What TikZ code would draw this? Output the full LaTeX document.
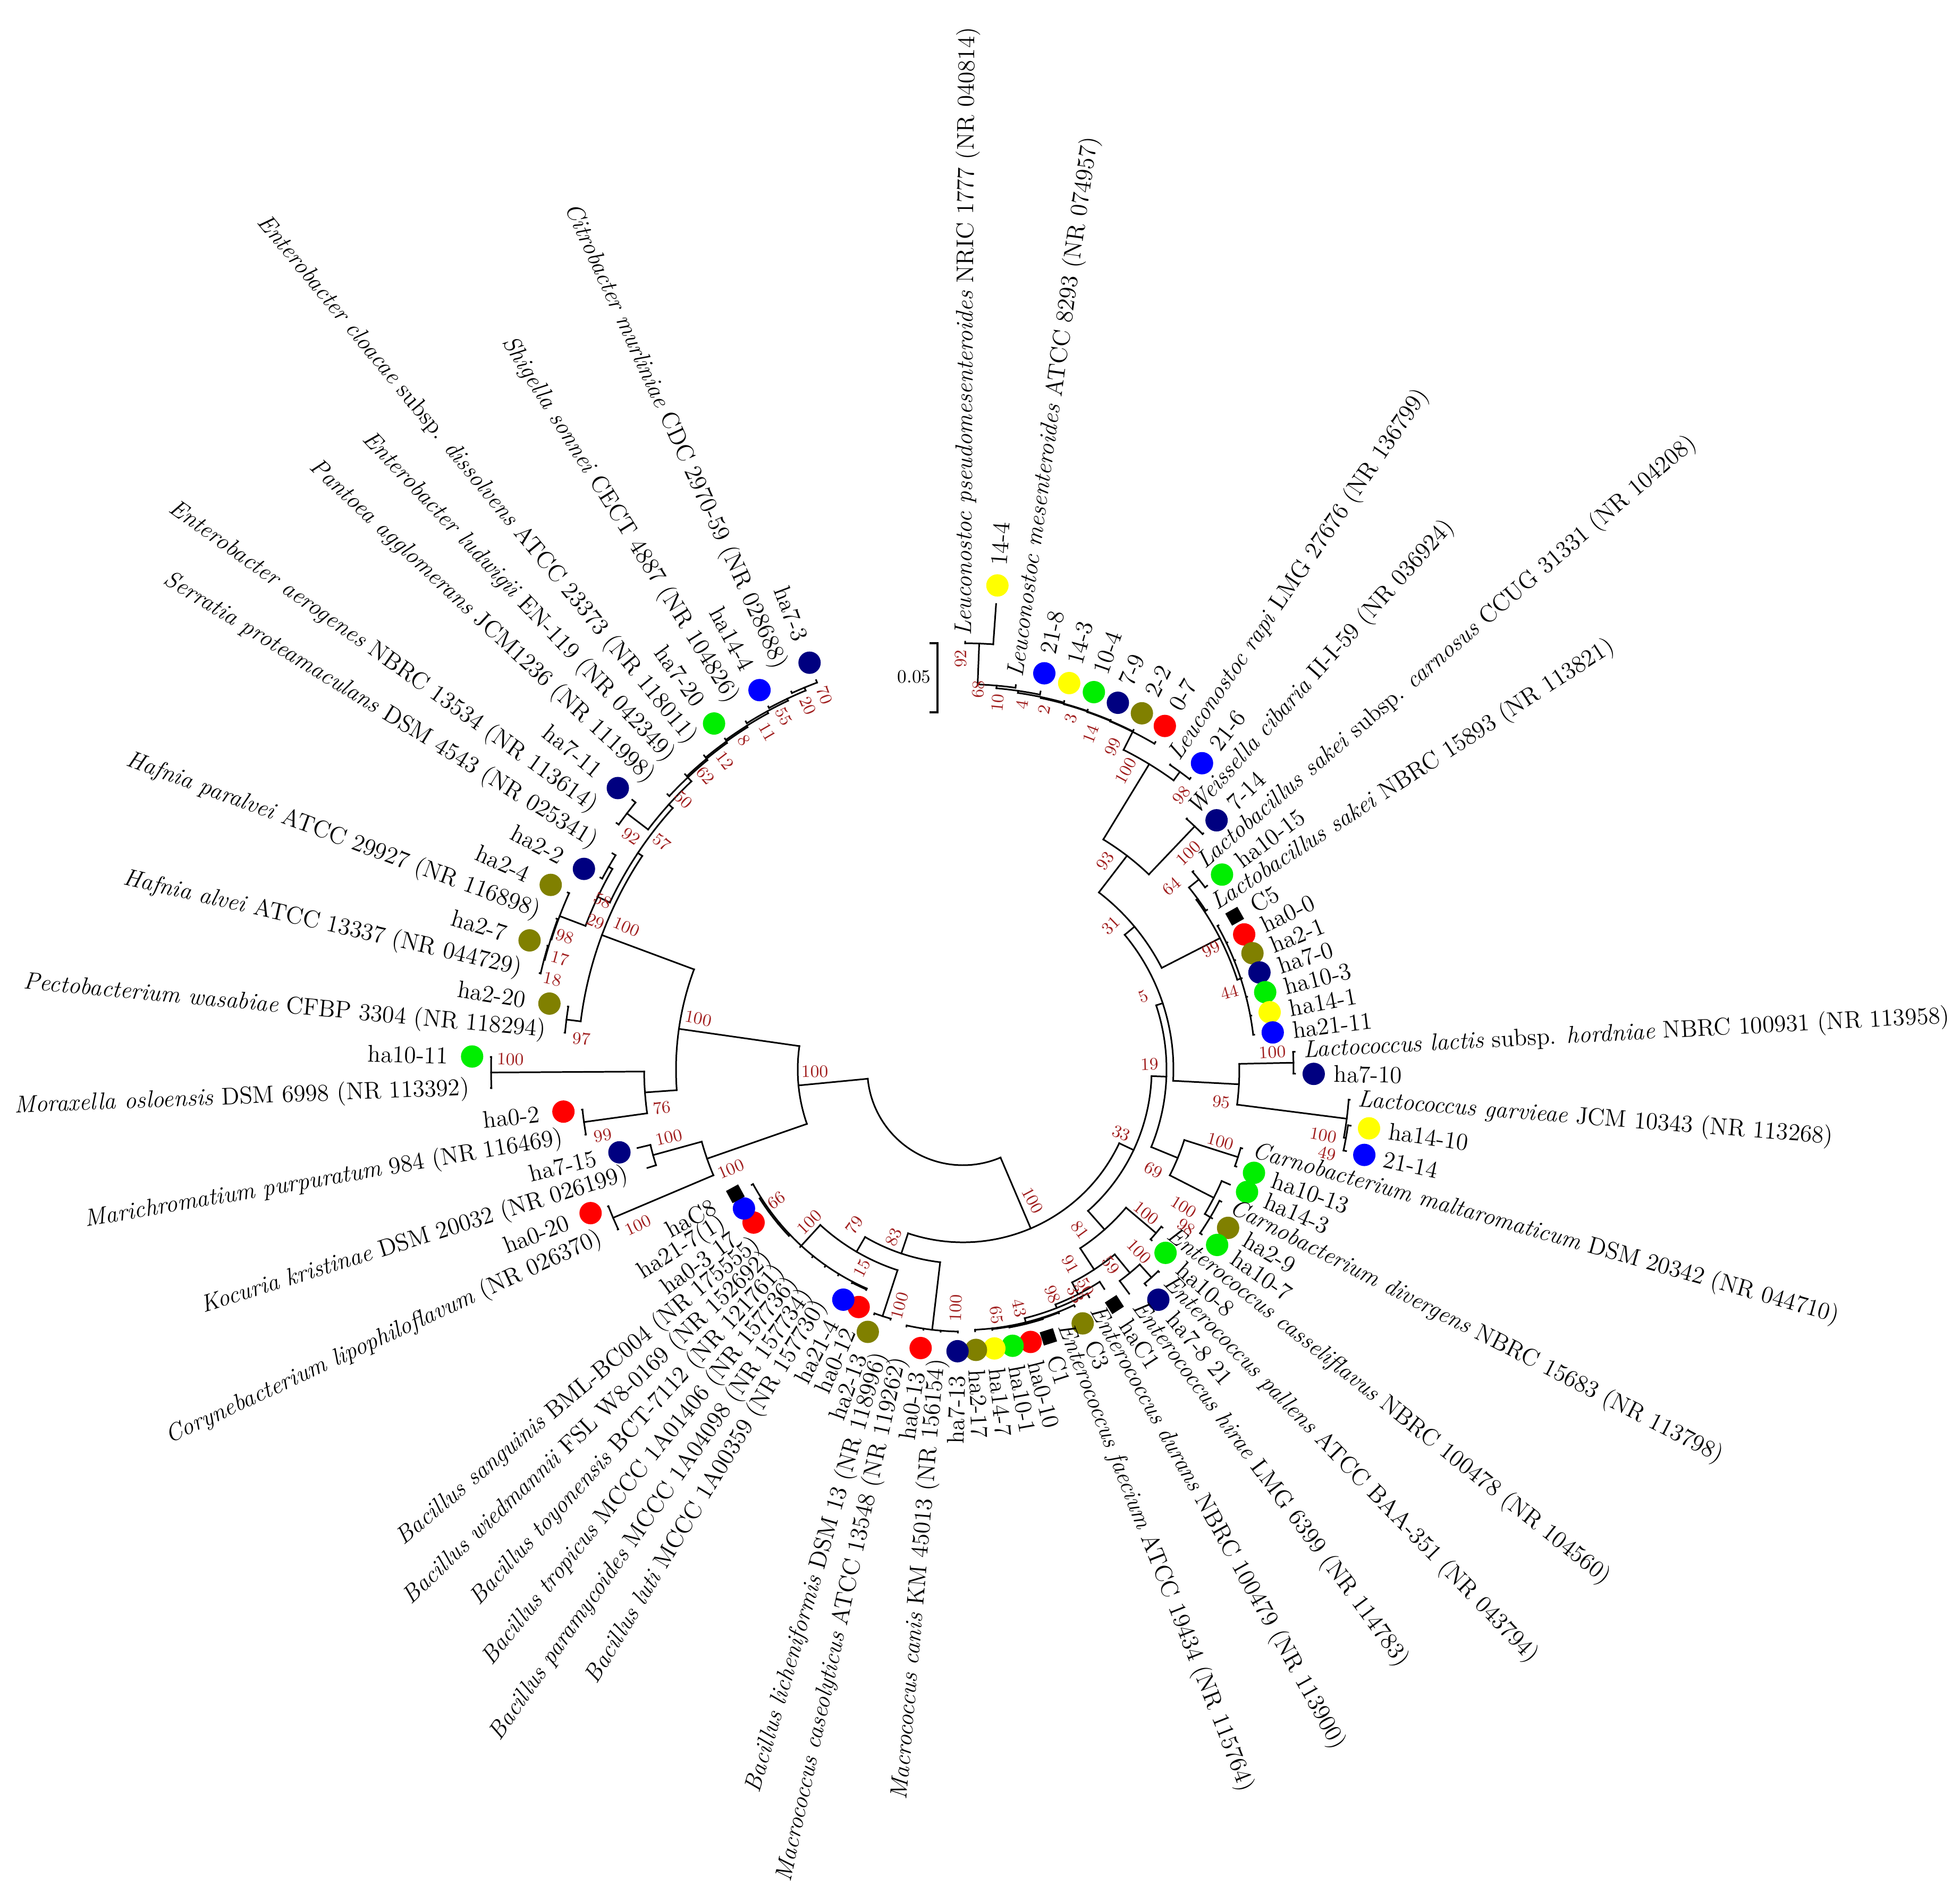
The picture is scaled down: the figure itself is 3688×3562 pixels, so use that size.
\documentclass[tikz,border=0pt]{standalone}
\usepackage{xcolor}

\definecolor{bsred}{RGB}{160,30,30}
\definecolor{dred}{RGB}{255,0,0}
\definecolor{dolive}{RGB}{128,128,0}
\definecolor{dnavy}{RGB}{0,0,128}
\definecolor{dgreen}{RGB}{0,238,0}
\definecolor{dyellow}{RGB}{255,255,0}
\definecolor{dblue}{RGB}{0,0,255}

\tikzset{
  branch/.style={line width=0.85pt, line cap=rect, line join=miter},
  taxon/.style={font=\fontsize{12.9}{14}\selectfont, inner sep=0pt},
  bs/.style={font=\fontsize{9.3}{10}\selectfont, text=bsred, inner sep=0pt},
  ctrl/.style={rectangle, fill=black, minimum size=0.26cm, inner sep=0pt},
}

% branches: radial piece (angle, r1, r2) and node arc (r, a1, a2)
\newcommand{\tbr}[3]{\draw[branch] ({#1}:{#2}) -- ({#1}:{#3});}
\newcommand{\tarc}[3]{\draw[branch] ({#2}:{#1}) arc[start angle={#2}, end angle={#3}, radius={#1*0.01cm}];}
% tip labels
\newcommand{\reftipR}[3]{\node[taxon, anchor=west, rotate={#1}] at ({#1}:{#2}) {#3};}
\newcommand{\reftipL}[3]{\node[taxon, anchor=east, rotate={#1+180}] at ({#1}:{#2}) {#3};}
\newcommand{\isotipR}[4]{\fill[#3] ({#1}:{#2+35}) circle[radius=0.21cm];
  \node[taxon, anchor=west, rotate={#1}] at ({#1}:{#2+72}) {#4};}
\newcommand{\isotipL}[4]{\fill[#3] ({#1}:{#2+35}) circle[radius=0.21cm];
  \node[taxon, anchor=east, rotate={#1+180}] at ({#1}:{#2+80}) {#4};}
\newcommand{\ctltipR}[3]{\node[ctrl, rotate={#1}] at ({#1}:{#2+35}) {};
  \node[taxon, anchor=west, rotate={#1}] at ({#1}:{#2+72}) {#3};}
\newcommand{\ctltipL}[3]{\node[ctrl, rotate={#1}] at ({#1}:{#2+35}) {};
  \node[taxon, anchor=east, rotate={#1+180}] at ({#1}:{#2+80}) {#3};}
% bootstrap values
\newcommand{\bsR}[3]{\node[bs, rotate={#1}] at ({#1}:{#2}) {#3};}
\newcommand{\bsL}[3]{\node[bs, rotate={#1+180}] at ({#1}:{#2}) {#3};}

\begin{document}
\begin{tikzpicture}[x=0.01cm, y=0.01cm]
\useasboundingbox (-1812,-1550) rectangle (1876,2012);

% root
\tarc{180}{-174.48}{-66.90}
\tbr{-174.48}{180}{311}
\tbr{-66.90}{180}{325}

% Actinobacteria + Proteobacteria
\tarc{311}{-188.15}{-160.80}
\tbr{-188.15}{311}{540}
\tbr{-160.80}{311}{510}
\tarc{510}{-164.57}{-157.04}
\tbr{-157.04}{510}{715}
\tbr{-164.57}{510}{605}
\tarc{715}{-158.92}{-155.15}
\tbr{-155.15}{715}{716} \tbr{-158.92}{715}{716}
\tarc{605}{-166.45}{-162.69}
\tbr{-162.69}{605}{622} \tbr{-166.45}{605}{630}
\tarc{540}{-200.42}{-175.88}
\tbr{-175.88}{540}{600}
\tbr{-200.42}{540}{725}
\tarc{600}{-179.64}{-172.11}
\tbr{-179.64}{600}{888}
\tbr{-172.11}{600}{720}
\tarc{888}{-181.52}{-177.75}
\tbr{-177.75}{888}{889} \tbr{-181.52}{888}{889}
\tarc{720}{-173.99}{-170.22}
\tbr{-170.22}{720}{721} \tbr{-173.99}{720}{721}

% Enterobacterales
\tarc{725}{-213.66}{-187.18}
\tbr{-187.18}{725}{752}
\tbr{-213.66}{725}{735}
\tarc{752}{-189.06}{-185.29}
\tbr{-185.29}{752}{753} \tbr{-189.06}{752}{753}
\tarc{735}{-222.01}{-205.31}
\tbr{-205.31}{735}{760}
\tbr{-222.01}{735}{745}
\tarc{760}{-209.78}{-200.83}
\tbr{-209.78}{760}{768}
\tbr{-200.83}{760}{812}
\tarc{768}{-211.66}{-207.89}
\tbr{-207.89}{768}{772} \tbr{-211.66}{768}{775}
\tarc{812}{-204.12}{-197.54}
\tbr{-204.12}{812}{815} \tbr{-197.54}{812}{813.5}
\tarc{813.5}{-200.36}{-194.71}
\tbr{-200.36}{813.5}{816} \tbr{-194.71}{813.5}{815}
\tarc{815}{-196.59}{-192.82}
\tbr{-196.59}{815}{816} \tbr{-192.82}{815}{817}
\tarc{745}{-226.70}{-217.31}
\tbr{-217.31}{745}{795}
\tbr{-226.70}{745}{755}
\tarc{795}{-219.19}{-215.43}
\tbr{-215.43}{795}{800} \tbr{-219.19}{795}{803}
\tarc{755}{-230.44}{-222.96}
\tbr{-222.96}{755}{760} \tbr{-230.44}{755}{758}
\tarc{758}{-234.14}{-226.73}
\tbr{-226.73}{758}{763} \tbr{-234.14}{758}{761}
\tarc{761}{-237.80}{-230.49}
\tbr{-230.49}{761}{766} \tbr{-237.80}{761}{764}
\tarc{764}{-241.33}{-234.26}
\tbr{-234.26}{764}{767} \tbr{-241.33}{764}{768}
\tarc{768}{-244.62}{-238.03}
\tbr{-238.03}{768}{772} \tbr{-244.62}{768}{772}
\tarc{772}{-247.45}{-241.79}
\tbr{-241.79}{772}{775} \tbr{-247.45}{772}{778}
\tarc{778}{-249.33}{-245.56}
\tbr{-245.56}{778}{781} \tbr{-249.33}{778}{783}

% Firmicutes
\tarc{325}{-108.54}{-25.25}
\tbr{-108.54}{325}{365}
\tbr{-25.25}{325}{355}
% Bacillales
\tarc{365}{-120.31}{-96.76}
\tbr{-120.31}{365}{397}
\tbr{-96.76}{365}{493}
\tarc{493}{-102.41}{-91.11}
\tbr{-91.11}{493}{495} \tbr{-94.88}{493}{495} \tbr{-98.65}{493}{495} \tbr{-102.41}{493}{495}
\tarc{397}{-132.55}{-108.07}
\tbr{-132.55}{397}{450}
\tbr{-108.07}{397}{488}
\tarc{488}{-109.95}{-106.18}
\tbr{-106.18}{488}{490} \tbr{-109.95}{488}{490}
\tarc{450}{-151.38}{-113.72}
\tarc{453}{-147.62}{-136.32}
\tarc{452}{-117.48}{-113.72}
\foreach \a in {-113.72,-117.48,-121.25,-125.02,-128.78,-132.55,-136.32,-140.08,-143.85,-147.62,-151.38}
  {\tbr{\a}{450}{453}}
% Lactobacillales
\tarc{355}{-48.50}{-2.00}
\tbr{-48.50}{355}{402}
\tbr{-2.00}{355}{383}
\tarc{402}{-56.74}{-40.26}
\tbr{-40.26}{402}{476}
\tbr{-56.74}{402}{450}
\tarc{476}{-42.14}{-38.38}
\tbr{-38.38}{476}{479} \tbr{-42.14}{476}{479}
\tarc{450}{-62.86}{-50.62}
\tbr{-50.62}{450}{495}
\tbr{-62.86}{450}{475}
\tarc{495}{-53.44}{-47.80}
\tbr{-47.80}{495}{528}
\tbr{-53.44}{495}{525}
\tarc{528}{-49.68}{-45.91}
\tbr{-45.91}{528}{530} \tbr{-49.68}{528}{533}
\tarc{475}{-68.52}{-57.21}
\tbr{-57.21}{475}{491}
\tbr{-68.52}{475}{482}
\tarc{482}{-76.05}{-60.98}
\tbr{-60.98}{482}{490}
\tbr{-76.05}{482}{490}
\tarc{490}{-87.35}{-64.75}
\tarc{491.5}{-83.58}{-68.51}
\tarc{493}{-79.81}{-72.28}
\foreach \a in {-64.75,-68.51,-72.28,-76.05,-79.81,-83.58,-87.35}
  {\tbr{\a}{490}{493}}
% Carnobacterium
\tarc{383}{-22.37}{18.37}
\tbr{-22.37}{383}{437}
\tbr{18.37}{383}{396}
\tarc{437}{-27.08}{-17.66}
\tbr{-17.66}{437}{543}
\tbr{-27.08}{437}{530}
\tarc{543}{-19.54}{-15.77}
\tbr{-15.77}{543}{546} \tbr{-19.54}{543}{546}
\tarc{530}{-30.84}{-23.31}
\tbr{-23.31}{530}{547}
\tbr{-30.84}{530}{542}
\tarc{542}{-34.61}{-27.08}
\tbr{-27.08}{542}{546} \tbr{-30.84}{542}{546} \tbr{-34.61}{542}{546}
% Lactococcus
\tarc{396}{-3.06}{39.79}
\tbr{-3.06}{396}{520}
\tbr{39.79}{396}{420}
\tarc{520}{-7.30}{1.18}
\tbr{1.18}{520}{622}
\tbr{-7.30}{520}{728}
\tarc{622}{-0.71}{3.06}
\tbr{3.06}{622}{625} \tbr{-0.71}{622}{625}
\tarc{728}{-10.13}{-4.47}
\tbr{-4.47}{728}{730} \tbr{-10.13}{728}{732}
\tarc{732}{-12.01}{-8.24}
\tbr{-8.24}{732}{737} \tbr{-12.01}{732}{737}
% Leuconostoc, Weissella, Lactobacillus
\tarc{420}{27.08}{52.50}
\tbr{52.50}{420}{507}
\tbr{27.08}{420}{543}
\tarc{507}{46.38}{58.62}
\tbr{58.62}{507}{673}
\tbr{46.38}{507}{632}
\tarc{632}{44.50}{48.26}
\tbr{48.26}{632}{633} \tbr{44.50}{632}{634}
\tarc{673}{53.92}{63.32}
\tbr{63.32}{673}{711}
\tbr{53.92}{673}{693}
\tarc{693}{52.03}{55.80}
\tbr{55.80}{693}{694} \tbr{52.03}{693}{696}
\tarc{711}{59.56}{67.07}
\tbr{59.56}{711}{714.7} \tbr{67.07}{711}{712}
\tarc{712}{63.33}{70.81}
\tbr{63.33}{712}{715} \tbr{70.81}{712}{713}
\tarc{713}{67.10}{74.52}
\tbr{67.10}{713}{714} \tbr{74.52}{713}{714}
\tarc{714}{70.87}{78.16}
\tbr{70.87}{714}{716.5} \tbr{78.16}{714}{716}
\tarc{716}{74.63}{81.70}
\tbr{74.63}{716}{719} \tbr{81.70}{716}{720}
\tarc{720}{78.40}{84.99}
\tbr{78.40}{720}{726} \tbr{84.99}{720}{725}
\tarc{725}{82.17}{87.82}
\tbr{82.17}{725}{730} \tbr{87.82}{725}{802}
\tarc{802}{85.93}{89.70}
\tbr{89.70}{802}{805} \tbr{85.93}{802}{878}
\tarc{543}{18.13}{36.02}
\tbr{36.02}{543}{546}
\tbr{18.13}{543}{550}
\tarc{546}{33.19}{38.85}
\tbr{33.19}{546}{549}
\tbr{38.85}{546}{570}
\tarc{570}{36.96}{40.73}
\tbr{40.73}{570}{572} \tbr{36.96}{570}{575}
\tarc{550}{6.83}{29.43}
\foreach \a in {29.43,25.66,21.89,18.13,14.36,10.59,6.83}
  {\tbr{\a}{550}{552}}

% tips, right half
\reftipR{89.70}{816}{\textit{Leuconostoc pseudomesenteroides} NRIC 1777 (NR 040814)}
\isotipR{85.93}{878}{dyellow}{14-4}
\reftipR{82.17}{745}{\textit{Leuconostoc mesenteroides} ATCC 8293 (NR 074957)}
\isotipR{78.40}{726}{dblue}{21-8}
\isotipR{74.63}{719}{dyellow}{14-3}
\isotipR{70.87}{716.5}{dgreen}{10-4}
\isotipR{67.10}{714}{dnavy}{7-9}
\isotipR{63.33}{715}{dolive}{2-2}
\isotipR{59.56}{714.7}{dred}{0-7}
\reftipR{55.80}{708}{\textit{Leuconostoc rapi} LMG 27676 (NR 136799)}
\isotipR{52.03}{696}{dblue}{21-6}
\reftipR{48.26}{648}{\textit{Weissella cibaria} II-I-59 (NR 036924)}
\isotipR{44.50}{634}{dnavy}{7-14}
\reftipR{40.73}{590}{\textit{Lactobacillus sakei} subsp. \textit{carnosus} CCUG 31331 (NR 104208)}
\isotipR{36.96}{575}{dgreen}{ha10-15}
\reftipR{33.19}{564}{\textit{Lactobacillus sakei} NBRC 15893 (NR 113821)}
\ctltipR{29.43}{552}{C5}
\isotipR{25.66}{552}{dred}{ha0-0}
\isotipR{21.89}{552}{dolive}{ha2-1}
\isotipR{18.13}{552}{dnavy}{ha7-0}
\isotipR{14.36}{552}{dgreen}{ha10-3}
\isotipR{10.59}{552}{dyellow}{ha14-1}
\isotipR{6.83}{552}{dblue}{ha21-11}
\reftipR{3.06}{641}{\textit{Lactococcus lactis} subsp. \textit{hordniae} NBRC 100931 (NR 113958)}
\isotipR{-0.71}{625}{dnavy}{ha7-10}
\reftipR{-4.47}{745}{\textit{Lactococcus garvieae} JCM 10343 (NR 113268)}
\isotipR{-8.24}{737}{dyellow}{ha14-10}
\isotipR{-12.01}{737}{dblue}{21-14}
\reftipR{-15.77}{566}{\textit{Carnobacterium maltaromaticum} DSM 20342 (NR 044710)}
\isotipR{-19.54}{546}{dgreen}{ha10-13}
\isotipR{-23.31}{547}{dgreen}{ha14-3}
\reftipR{-27.08}{566}{\textit{Carnobacterium divergens} NBRC 15683 (NR 113798)}
\isotipR{-30.84}{546}{dolive}{ha2-9}
\isotipR{-34.61}{546}{dgreen}{ha10-7}
\reftipR{-38.38}{495}{\textit{Enterococcus casseliflavus} NBRC 100478 (NR 104560)}
\isotipR{-42.14}{479}{dgreen}{ha10-8}
\reftipR{-45.91}{550}{\textit{Enterococcus pallens} ATCC BAA-351 (NR 043794)}
\isotipR{-49.68}{533}{dnavy}{ha7-8 21}
\reftipR{-53.44}{548}{\textit{Enterococcus hirae} LMG 6399 (NR 114783)}
\ctltipR{-57.21}{491}{haC1}
\reftipR{-60.98}{512}{\textit{Enterococcus durans} NBRC 100479 (NR 113900)}
\isotipR{-64.75}{493}{dolive}{C3}
\reftipR{-68.51}{515}{\textit{Enterococcus faecium} ATCC 19434 (NR 115764)}
\ctltipR{-72.28}{493}{C1}
\isotipR{-76.05}{493}{dred}{ha0-10}
\isotipR{-79.81}{493}{dgreen}{ha10-1}
\isotipR{-83.58}{493}{dyellow}{ha14-7}
\isotipR{-87.35}{493}{dolive}{ha2-17}

% tips, left half
\isotipL{-91.11}{495}{dnavy}{ha7-13}
\reftipL{-94.88}{546}{\textit{Macrococcus canis} KM 45013 (NR 156154)}
\isotipL{-98.65}{495}{dred}{ha0-13}
\reftipL{-102.41}{554}{\textit{Macrococcus caseolyticus} ATCC 13548 (NR 119262)}
\reftipL{-106.18}{555}{\textit{Bacillus licheniformis} DSM 13 (NR 118996)}
\isotipL{-109.95}{490}{dolive}{ha2-13}
\isotipL{-113.72}{453}{dred}{ha0-12}
\isotipL{-117.48}{453}{dblue}{ha21-4}
\reftipL{-121.25}{512}{\textit{Bacillus luti} MCCC 1A00359 (NR 157730)}
\reftipL{-125.02}{510}{\textit{Bacillus paramycoides} MCCC 1A04098 (NR 157734)}
\reftipL{-128.78}{508}{\textit{Bacillus tropicus} MCCC 1A01406 (NR 157736)}
\reftipL{-132.55}{507}{\textit{Bacillus toyonensis} BCT-7112 (NR 121761)}
\reftipL{-136.32}{506}{\textit{Bacillus wiedmannii} FSL W8-0169 (NR 152692)}
\reftipL{-140.08}{505}{\textit{Bacillus sanguinis} BML-BC004 (NR 175555)}
\isotipL{-143.85}{453}{dred}{ha0-3 17}
\isotipL{-147.62}{453}{dblue}{ha21-7(1)}
\ctltipL{-151.38}{453}{haC8}
\reftipL{-155.15}{750}{\textit{Corynebacterium lipophiloflavum} (NR 026370)}
\isotipL{-158.92}{716}{dred}{ha0-20}
\reftipL{-162.69}{661}{\textit{Kocuria kristinae} DSM 20032 (NR 026199)}
\isotipL{-166.45}{630}{dnavy}{ha7-15}
\reftipL{-170.22}{764}{\textit{Marichromatium purpuratum} 984 (NR 116469)}
\isotipL{-173.99}{721}{dred}{ha0-2}
\reftipL{-177.75}{929}{\textit{Moraxella osloensis} DSM 6998 (NR 113392)}
\isotipL{-181.52}{889}{dgreen}{ha10-11}
\reftipL{-185.29}{788}{\textit{Pectobacterium wasabiae} CFBP 3304 (NR 118294)}
\isotipL{-189.06}{753}{dolive}{ha2-20}
\reftipL{-192.82}{852}{\textit{Hafnia alvei} ATCC 13337 (NR 044729)}
\isotipL{-196.59}{816}{dolive}{ha2-7}
\reftipL{-200.36}{850}{\textit{Hafnia paralvei} ATCC 29927 (NR 116898)}
\isotipL{-204.12}{815}{dolive}{ha2-4}
\isotipL{-207.89}{772}{dnavy}{ha2-2}
\reftipL{-211.66}{812}{\textit{Serratia proteamaculans} DSM 4543 (NR 025341)}
\reftipL{-215.43}{850}{\textit{Enterobacter aerogenes} NBRC 13534 (NR 113614)}
\isotipL{-219.19}{803}{dnavy}{ha7-11}
\reftipL{-222.96}{802}{\textit{Pantoea agglomerans} JCM1236 (NR 111998)}
\reftipL{-226.73}{803}{\textit{Enterobacter ludwigii} EN-119 (NR 042349)}
\reftipL{-230.49}{801}{\textit{Enterobacter cloacae} subsp. \textit{dissolvens} ATCC 23373 (NR 118011)}
\isotipL{-234.26}{767}{dgreen}{ha7-20}
\reftipL{-238.03}{817}{\textit{Shigella sonnei} CECT 4887 (NR 104826)}
\isotipL{-241.79}{775}{dblue}{ha14-4}
\reftipL{-245.56}{830}{\textit{Citrobacter murliniae} CDC 2970-59 (NR 028688)}
\isotipL{-249.33}{783}{dnavy}{ha7-3}

% bootstrap values
\bsR{90.3}{773}{92} \bsR{87.7}{716}{68} \bsR{84.6}{693}{10} \bsR{80.8}{696}{4}
\bsR{77.3}{694}{2} \bsR{72.9}{691}{3} \bsR{69.2}{675}{14} \bsR{65.1}{669}{99}
\bsR{61.4}{640}{100} \bsR{51.5}{660}{98} \bsR{43.8}{588}{100} \bsR{55.7}{475}{93}
\bsR{41.3}{522}{64} \bsR{44.3}{388}{31} \bsR{25.9}{519}{99} \bsR{16.2}{522}{44}
\bsR{22}{366}{5} \bsR{1.6}{351}{19} \bsR{3.2}{583}{100} \bsR{-7.2}{490}{95}
\bsR{-10.3}{689}{100} \bsR{-13.0}{703}{49} \bsR{-21.9}{321}{33} \bsR{-27.8}{405}{69}
\bsR{-15.6}{503}{100} \bsR{-31.9}{489}{100} \bsR{-35.2}{514}{98} \bsR{-53.9}{373}{81}
\bsR{-38.1}{438}{100} \bsR{-45.9}{476}{100} \bsR{-61.1}{418}{91} \bsR{-52.9}{461}{59}
\bsR{-60.6}{470}{50} \bsR{-63.4}{473}{33} \bsR{-68.3}{455}{98} \bsR{-76.7}{461}{43}
\bsR{-82.2}{466}{65} \bsR{-62}{279}{100}
\bsL{-91.7}{449}{100} \bsL{-105}{460}{100} \bsL{-112.5}{341}{83} \bsL{-124.9}{357}{79}
\bsL{-135.2}{407}{100} \bsL{-144.96}{429}{66} \bsL{-117}{419}{15} \bsL{180.8}{279}{100}
\bsL{169.1}{507}{100} \bsL{203.2}{475}{100} \bsL{187.2}{571}{76} \bsL{178.7}{852}{100}
\bsL{190.4}{689}{99} \bsL{193}{568}{100} \bsL{205.6}{678}{100} \bsL{157.06}{688}{100}
\bsL{175.4}{720}{97} \bsL{161.5}{790}{98} \bsL{164.6}{787}{17} \bsL{167.6}{791}{18}
\bsL{158.1}{745}{29} \bsL{154.85}{749}{58} \bsL{142.95}{710}{57} \bsL{144.9}{763}{92}
\bsL{136.0}{731}{50} \bsL{131.2}{735}{62} \bsL{127.6}{734}{12} \bsL{123.6}{744}{8}
\bsL{120.1}{734}{11} \bsL{116.9}{745}{55} \bsL{113.1}{744}{20} \bsL{110.3}{751}{70}

% scale bar
\draw[line width=1.3pt] (-63,802) -- (-48,802) -- (-48,672) -- (-63,672);
\node[font=\fontsize{10}{12}\selectfont] (scale) at (-92,739) {0.05};
\end{tikzpicture}
\end{document}
